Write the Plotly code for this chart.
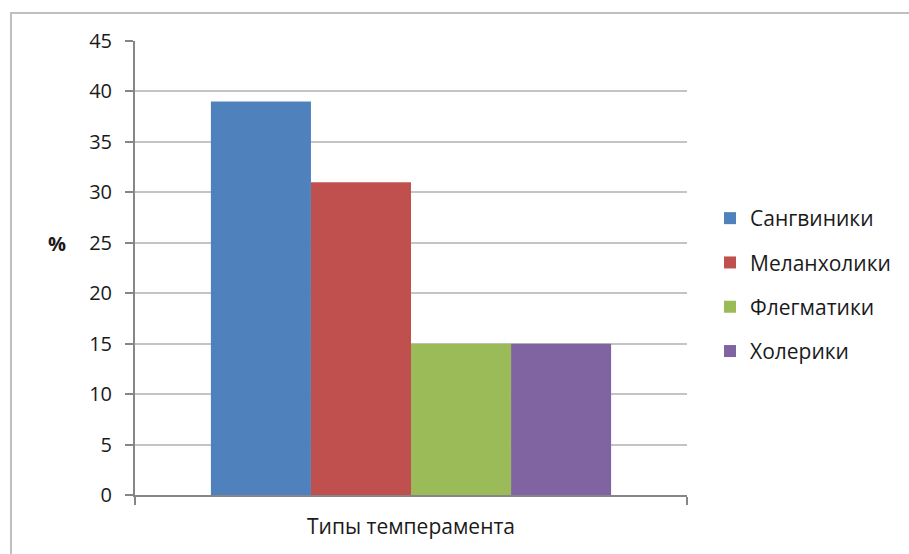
import plotly.graph_objects as go

category = ["Типы темперамента"]
series_names = ["Сангвиники", "Меланхолики", "Флегматики", "Холерики"]
series_values = [39, 31, 15, 15]
colors = ["#4F81BD", "#C0504D", "#9BBB59", "#8064A2"]
y_ticks = [0, 5, 10, 15, 20, 25, 30, 35, 40, 45]

W, H = 909, 554
L, R, T, B = 135, 222, 41, 59
pw = W - L - R
ph = H - T - B

fig = go.Figure()
for i, (name, val) in enumerate(zip(series_names, series_values)):
    fig.add_trace(go.Bar(
        x=category, y=[val], name=name,
        marker=dict(color=colors[i], line=dict(width=0)),
        legendgroup=name,
    ))

FONT = "'Open Sans', 'Noto Sans', sans-serif"
TXT = "#1A1A1A"

fig.update_layout(
    width=W, height=H,
    margin=dict(l=L, r=R, t=T, b=B, pad=0),
    paper_bgcolor="white", plot_bgcolor="white",
    barmode="group", bargap=0.275, bargroupgap=0,
    font=dict(family=FONT, size=18, color=TXT),
    showlegend=True,
    legend=dict(
        x=(710 - L) / pw, xanchor="left",
        y=(H - B - 285) / ph, yanchor="middle",
        font=dict(family=FONT, size=21, color=TXT),
        tracegroupgap=14, itemwidth=30,
        bgcolor="rgba(0,0,0,0)",
    ),
    xaxis=dict(
        type="category", showticklabels=False,
        ticks="outside", ticklen=8, tickwidth=2, tickcolor="#868686",
        tickson="boundaries",
        showline=True, linecolor="#868686", linewidth=2,
        showgrid=False, zeroline=False,
        title=dict(text="Типы темперамента",
                   font=dict(family=FONT, size=21, color=TXT), standoff=23),
        fixedrange=True,
    ),
    yaxis=dict(
        range=[0, 45], tickvals=y_ticks, ticktext=[str(v) for v in y_ticks],
        ticks="outside", ticklen=8, tickwidth=2, tickcolor="#868686",
        showline=True, linecolor="#868686", linewidth=2,
        showgrid=True, gridcolor="#C4C4C4", gridwidth=2,
        zeroline=False,
        tickfont=dict(family=FONT, size=20, color=TXT),
        ticklabelstandoff=9,
    ),
    annotations=[dict(
        text="<b>%</b>", xref="paper", yref="paper",
        x=(57 - L) / pw, y=(H - B - 243) / ph,
        xanchor="center", yanchor="middle", showarrow=False,
        font=dict(family=FONT, size=20, color=TXT),
    )],
    shapes=[dict(
        type="rect", xref="paper", yref="paper",
        x0=(11 - L) / pw, x1=(W + 5 - L) / pw,
        y0=(H - B - (H + 5)) / ph, y1=(H - B - 13) / ph,
        line=dict(color="#BFBFBF", width=2), fillcolor="rgba(0,0,0,0)",
        layer="below",
    )],
)

fig.write_html("out.html")
